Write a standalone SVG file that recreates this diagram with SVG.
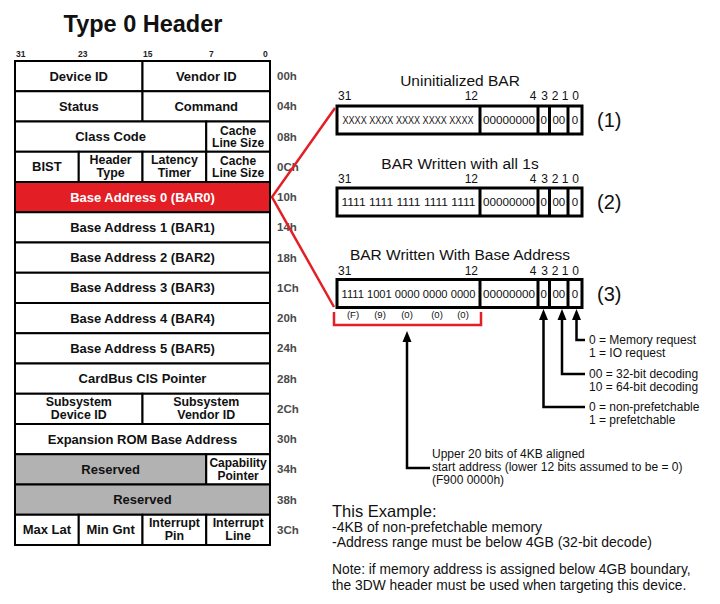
<svg xmlns="http://www.w3.org/2000/svg" width="720" height="604" viewBox="0 0 720 604">
<style>
.c{fill:#fff;stroke:#000;stroke-width:2}
.r{fill:#e31e25;stroke:#000;stroke-width:2}
.g{fill:#b2b2b2;stroke:#000;stroke-width:2}
.t{font-family:"Liberation Sans",Arial,sans-serif;font-weight:bold;font-size:13px;text-anchor:middle;fill:#111}
.t2{font-family:"Liberation Sans",Arial,sans-serif;font-weight:bold;font-size:12px;text-anchor:middle;fill:#111}
.t3{font-family:"Liberation Sans",Arial,sans-serif;font-weight:bold;font-size:12.4px;text-anchor:middle;fill:#111}
.w{fill:#fff}
.off{font-family:"Liberation Sans",Arial,sans-serif;font-weight:bold;font-size:11.5px;fill:#4a4a4a}
.bn{font-family:"Liberation Sans",Arial,sans-serif;font-weight:bold;font-size:8.5px;fill:#222}
.bar{fill:#fff;stroke:#000;stroke-width:3}
.div{stroke:#000;stroke-width:3}
.h{font-family:"Liberation Sans",Arial,sans-serif;font-size:15.5px;text-anchor:middle;fill:#111}
.n{font-family:"Liberation Sans",Arial,sans-serif;font-size:12px;fill:#111}
.in{font-family:"Liberation Sans",Arial,sans-serif;font-size:11.5px;text-anchor:middle;fill:#111}
.inx{font-family:"Liberation Sans",Arial,sans-serif;font-size:10px;text-anchor:middle;fill:#111}
.num{font-family:"Liberation Sans",Arial,sans-serif;font-size:20px;fill:#111}
.hx{font-family:"Liberation Sans",Arial,sans-serif;font-size:9.5px;text-anchor:middle;fill:#111}
.lb{font-family:"Liberation Sans",Arial,sans-serif;font-size:12px;fill:#111}
.bt{font-family:"Liberation Sans",Arial,sans-serif;fill:#111}
.blk{fill:none;stroke:#000;stroke-width:2.5}
.red{fill:none;stroke:#e31e25;stroke-width:2.5}
.ah{fill:#000}
</style>

<text x="143" y="32" font-family="Liberation Sans, Arial, sans-serif" font-weight="bold" font-size="23.5" text-anchor="middle" fill="#111">Type 0 Header</text>

<g id="bit-numbers">
<text class="bn" x="16" y="57">31</text>
<text class="bn" x="78" y="57">23</text>
<text class="bn" x="143" y="57">15</text>
<text class="bn" x="209" y="57">7</text>
<text class="bn" x="263" y="57">0</text>
</g>

<g id="row-00h">
<g id="device-id"><rect class="c" x="15" y="61" width="127.5" height="30.25"/><text class="t" x="78.75" y="80.6">Device ID</text></g>
<g id="vendor-id"><rect class="c" x="142.5" y="61" width="127.5" height="30.25"/><text class="t" x="206.25" y="80.6">Vendor ID</text></g>
</g>
<g id="row-04h">
<g id="status"><rect class="c" x="15" y="91.25" width="127.5" height="30.25"/><text class="t" x="78.75" y="110.9">Status</text></g>
<g id="command"><rect class="c" x="142.5" y="91.25" width="127.5" height="30.25"/><text class="t" x="206.25" y="110.9">Command</text></g>
</g>
<g id="row-08h">
<g id="class-code"><rect class="c" x="15" y="121.5" width="191.25" height="30.25"/><text class="t" x="110.6" y="141.1">Class Code</text></g>
<g id="cache-line-size-1"><rect class="c" x="206.25" y="121.5" width="63.75" height="30.25"/><text class="t2" x="238.1" y="134.6">Cache</text><text class="t2" x="238.1" y="147.1">Line Size</text></g>
</g>
<g id="row-0Ch">
<g id="bist"><rect class="c" x="15" y="151.75" width="63.75" height="30.25"/><text class="t" x="46.9" y="171.4">BIST</text></g>
<g id="header-type"><rect class="c" x="78.75" y="151.75" width="63.75" height="30.25"/><text class="t3" x="110.6" y="164.4">Header</text><text class="t3" x="110.6" y="177.4">Type</text></g>
<g id="latency-timer"><rect class="c" x="142.5" y="151.75" width="63.75" height="30.25"/><text class="t3" x="174.4" y="164.4">Latency</text><text class="t3" x="174.4" y="177.4">Timer</text></g>
<g id="cache-line-size-2"><rect class="c" x="206.25" y="151.75" width="63.75" height="30.25"/><text class="t2" x="238.1" y="164.9">Cache</text><text class="t2" x="238.1" y="177.4">Line Size</text></g>
</g>
<g id="bar0"><rect class="r" x="15" y="182" width="255" height="30.25"/><text class="t w" x="142.5" y="201.6">Base Address 0 (BAR0)</text></g>
<g id="bar1"><rect class="c" x="15" y="212.25" width="255" height="30.25"/><text class="t" x="142.5" y="231.9">Base Address 1 (BAR1)</text></g>
<g id="bar2"><rect class="c" x="15" y="242.5" width="255" height="30.25"/><text class="t" x="142.5" y="262.1">Base Address 2 (BAR2)</text></g>
<g id="bar3"><rect class="c" x="15" y="272.75" width="255" height="30.25"/><text class="t" x="142.5" y="292.4">Base Address 3 (BAR3)</text></g>
<g id="bar4"><rect class="c" x="15" y="303" width="255" height="30.25"/><text class="t" x="142.5" y="322.6">Base Address 4 (BAR4)</text></g>
<g id="bar5"><rect class="c" x="15" y="333.25" width="255" height="30.25"/><text class="t" x="142.5" y="352.9">Base Address 5 (BAR5)</text></g>
<g id="cardbus"><rect class="c" x="15" y="363.5" width="255" height="30.25"/><text class="t" x="142.5" y="383.1">CardBus CIS Pointer</text></g>
<g id="row-2Ch">
<g id="subsys-device"><rect class="c" x="15" y="393.75" width="127.5" height="30.25"/><text class="t3" x="78.75" y="406.4">Subsystem</text><text class="t3" x="78.75" y="419.4">Device ID</text></g>
<g id="subsys-vendor"><rect class="c" x="142.5" y="393.75" width="127.5" height="30.25"/><text class="t3" x="206.25" y="406.4">Subsystem</text><text class="t3" x="206.25" y="419.4">Vendor ID</text></g>
</g>
<g id="exp-rom"><rect class="c" x="15" y="424" width="255" height="30.25"/><text class="t" x="142.5" y="443.6">Expansion ROM Base Address</text></g>
<g id="row-34h">
<g id="reserved-1"><rect class="g" x="15" y="454.25" width="191.25" height="30.25"/><text class="t" x="110.6" y="473.9">Reserved</text></g>
<g id="cap-pointer"><rect class="c" x="206.25" y="454.25" width="63.75" height="30.25"/><text class="t2" x="238.1" y="467.4">Capability</text><text class="t2" x="238.1" y="479.9">Pointer</text></g>
</g>
<g id="reserved-2"><rect class="g" x="15" y="484.5" width="255" height="30.25"/><text class="t" x="142.5" y="504.1">Reserved</text></g>
<g id="row-3Ch">
<g id="max-lat"><rect class="c" x="15" y="514.75" width="63.75" height="30.25"/><text class="t" x="46.9" y="534.4">Max Lat</text></g>
<g id="min-gnt"><rect class="c" x="78.75" y="514.75" width="63.75" height="30.25"/><text class="t" x="110.6" y="534.4">Min Gnt</text></g>
<g id="int-pin"><rect class="c" x="142.5" y="514.75" width="63.75" height="30.25"/><text class="t3" x="174.4" y="527.4">Interrupt</text><text class="t3" x="174.4" y="540.4">Pin</text></g>
<g id="int-line"><rect class="c" x="206.25" y="514.75" width="63.75" height="30.25"/><text class="t3" x="238.1" y="527.4">Interrupt</text><text class="t3" x="238.1" y="540.4">Line</text></g>
</g>

<g id="offsets">
<text class="off" x="277" y="80">00h</text>
<text class="off" x="277" y="110">04h</text>
<text class="off" x="277" y="141">08h</text>
<text class="off" x="277" y="171">0Ch</text>
<text class="off" x="277" y="201">10h</text>
<text class="off" x="277" y="231">14h</text>
<text class="off" x="277" y="262">18h</text>
<text class="off" x="277" y="292">1Ch</text>
<text class="off" x="277" y="322">20h</text>
<text class="off" x="277" y="352">24h</text>
<text class="off" x="277" y="383">28h</text>
<text class="off" x="277" y="413">2Ch</text>
<text class="off" x="277" y="443">30h</text>
<text class="off" x="277" y="473">34h</text>
<text class="off" x="277" y="504">38h</text>
<text class="off" x="277" y="534">3Ch</text>
</g>

<g id="bar-uninit">
<text class="h" x="460" y="86">Uninitialized BAR</text>
<text class="n" x="338" y="100">31</text>
<text class="n" x="478" y="100" text-anchor="end">12</text>
<text class="n" x="533" y="100" text-anchor="middle">4</text>
<text class="n" x="544.5" y="100" text-anchor="middle">3</text>
<text class="n" x="555" y="100" text-anchor="middle">2</text>
<text class="n" x="565" y="100" text-anchor="middle">1</text>
<text class="n" x="575.5" y="100" text-anchor="middle">0</text>
<rect class="bar" x="337" y="106" width="245" height="28"/>
<line class="div" x1="480" y1="106" x2="480" y2="134"/>
<line class="div" x1="538" y1="106" x2="538" y2="134"/>
<line class="div" x1="549.5" y1="106" x2="549.5" y2="134"/>
<line class="div" x1="568" y1="106" x2="568" y2="134"/>
<text class="inx" x="408" y="124" textLength="131" lengthAdjust="spacingAndGlyphs">XXXX XXXX XXXX XXXX XXXX</text>
<text class="in" x="509" y="124" textLength="52" lengthAdjust="spacingAndGlyphs">00000000</text>
<text class="in" x="543.7" y="124">0</text>
<text class="in" x="558.8" y="124">00</text>
<text class="in" x="575" y="124">0</text>
<text class="num" x="597" y="127">(1)</text>
</g>

<g id="bar-all1s">
<text class="h" x="460" y="169">BAR Written with all 1s</text>
<text class="n" x="338" y="183">31</text>
<text class="n" x="478" y="183" text-anchor="end">12</text>
<text class="n" x="533" y="183" text-anchor="middle">4</text>
<text class="n" x="544.5" y="183" text-anchor="middle">3</text>
<text class="n" x="555" y="183" text-anchor="middle">2</text>
<text class="n" x="565" y="183" text-anchor="middle">1</text>
<text class="n" x="575.5" y="183" text-anchor="middle">0</text>
<rect class="bar" x="337" y="188" width="245" height="28"/>
<line class="div" x1="480" y1="188" x2="480" y2="216"/>
<line class="div" x1="538" y1="188" x2="538" y2="216"/>
<line class="div" x1="549.5" y1="188" x2="549.5" y2="216"/>
<line class="div" x1="568" y1="188" x2="568" y2="216"/>
<text class="in" x="408.5" y="206" textLength="134" lengthAdjust="spacingAndGlyphs">1111 1111 1111 1111 1111</text>
<text class="in" x="509" y="206" textLength="52" lengthAdjust="spacingAndGlyphs">00000000</text>
<text class="in" x="543.7" y="206">0</text>
<text class="in" x="558.8" y="206">00</text>
<text class="in" x="575" y="206">0</text>
<text class="num" x="597" y="209">(2)</text>
</g>

<g id="bar-base">
<text class="h" x="460" y="260">BAR Written With Base Address</text>
<text class="n" x="338" y="275">31</text>
<text class="n" x="478" y="275" text-anchor="end">12</text>
<text class="n" x="533" y="275" text-anchor="middle">4</text>
<text class="n" x="544.5" y="275" text-anchor="middle">3</text>
<text class="n" x="555" y="275" text-anchor="middle">2</text>
<text class="n" x="565" y="275" text-anchor="middle">1</text>
<text class="n" x="575.5" y="275" text-anchor="middle">0</text>
<rect class="bar" x="337" y="279.5" width="245" height="28"/>
<line class="div" x1="480" y1="279.5" x2="480" y2="307.5"/>
<line class="div" x1="538" y1="279.5" x2="538" y2="307.5"/>
<line class="div" x1="549.5" y1="279.5" x2="549.5" y2="307.5"/>
<line class="div" x1="568" y1="279.5" x2="568" y2="307.5"/>
<text class="in" x="408.5" y="297.5" textLength="134" lengthAdjust="spacingAndGlyphs">1111 1001 0000 0000 0000</text>
<text class="in" x="509" y="297.5" textLength="52" lengthAdjust="spacingAndGlyphs">00000000</text>
<text class="in" x="543.7" y="297.5">0</text>
<text class="in" x="558.8" y="297.5">00</text>
<text class="in" x="575" y="297.5">0</text>
<text class="num" x="597" y="301">(3)</text>
<text class="hx" x="353" y="318">(F)</text>
<text class="hx" x="380" y="318">(9)</text>
<text class="hx" x="407" y="318">(0)</text>
<text class="hx" x="437" y="318">(0)</text>
<text class="hx" x="463" y="318">(0)</text>
</g>

<g id="labels">
<text class="lb" x="589" y="344">0 = Memory request</text>
<text class="lb" x="589" y="356.5">1 = IO request</text>
<text class="lb" x="589" y="378">00 = 32-bit decoding</text>
<text class="lb" x="589" y="390.5">10 = 64-bit decoding</text>
<text class="lb" x="589" y="411">0 = non-prefetchable</text>
<text class="lb" x="589" y="423.5">1 = prefetchable</text>
<text class="lb" x="432" y="458">Upper 20 bits of 4KB aligned</text>
<text class="lb" x="432" y="471">start address (lower 12 bits assumed to be = 0)</text>
<text class="lb" x="432" y="484">(F900 0000h)</text>
</g>

<g id="example">
<text class="bt" x="332" y="517" font-size="16.5">This Example:</text>
<text class="bt" x="332" y="532" font-size="14">-4KB of non-prefetchable memory</text>
<text class="bt" x="332" y="547" font-size="14">-Address range must be below 4GB (32-bit decode)</text>
<text class="bt" x="332" y="574" font-size="13.8">Note: if memory address is assigned below 4GB boundary,</text>
<text class="bt" x="332" y="589.5" font-size="13.8">the 3DW header must be used when targeting this device.</text>
</g>

<g id="connectors">
<polyline class="red" points="335,108 272,197 334,307"/>
<path class="red" d="M334,312 V325 H481 V312" stroke-width="3"/>
<path class="blk" d="M430,468 H407 V340"/>
<polygon class="ah" points="407,331 402.5,342 411.5,342"/>
<path class="blk" d="M585,340 H576.5 V317"/>
<polygon class="ah" points="576.5,309 572,320 581,320"/>
<path class="blk" d="M585,374 H562 V317"/>
<polygon class="ah" points="562,309 557.5,320 566.5,320"/>
<path class="blk" d="M585,407 H543.5 V317"/>
<polygon class="ah" points="543.5,309 539,320 548,320"/>
</g>
</svg>
